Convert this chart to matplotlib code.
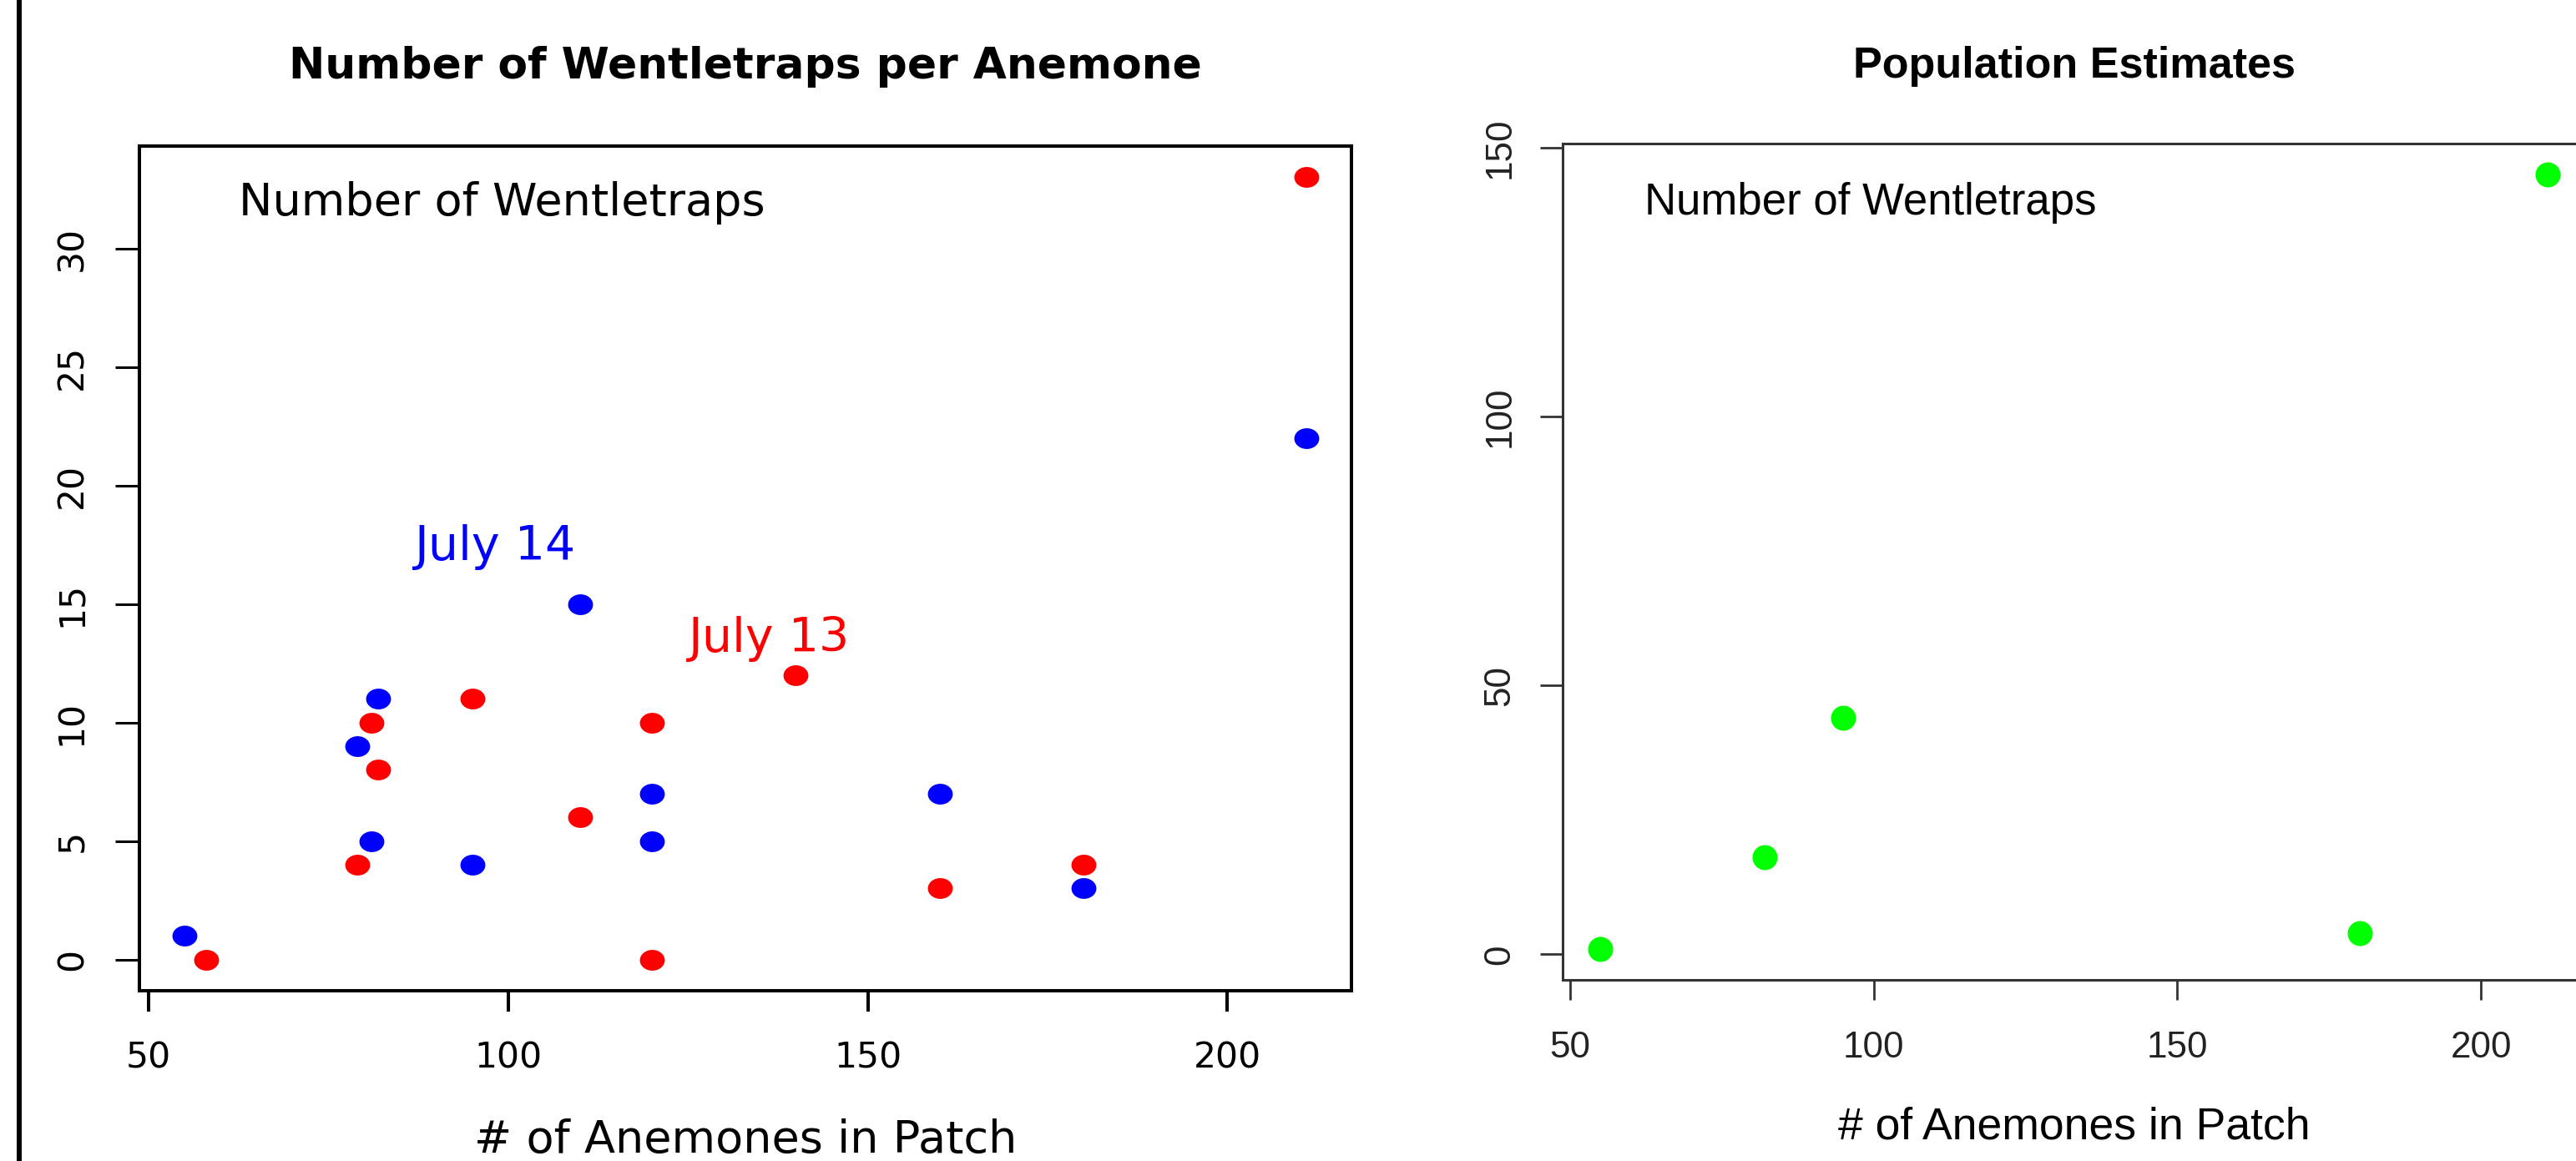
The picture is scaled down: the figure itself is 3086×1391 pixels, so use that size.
import numpy as np
import matplotlib
matplotlib.use("Agg")
import matplotlib.pyplot as plt
from matplotlib.path import Path
from matplotlib.lines import Line2D

# July 13 / July 14 counts per patch
x13 = [58, 79, 81, 82, 95, 110, 120, 120, 140, 160, 180, 211]
y13 = [0, 4, 10, 8, 11, 6, 10, 0, 12, 3, 4, 33]
x14 = [55, 79, 81, 82, 95, 110, 120, 120, 160, 180, 211]
y14 = [1, 9, 5, 11, 4, 15, 7, 5, 7, 3, 22]

# population estimates
xpop = [55, 82, 95, 180, 211]
ypop = [1, 18, 44, 4, 145]

xticks = [50, 100, 150, 200]
yticks_left = [0, 5, 10, 15, 20, 25, 30]
yticks_right = [0, 50, 100, 150]

W, H = 3086, 1391
fig = plt.figure(figsize=(W / 100, H / 100), dpi=100)
fig.patch.set_facecolor("white")


def rlim(v):
    lo, hi = min(v), max(v)
    d = 0.04 * (hi - lo)
    return lo - d, hi + d


# squashed ellipse marker for the left panel (image was stretched sideways)
t = np.linspace(0, 2 * np.pi, 60)
ell = Path(np.column_stack([np.cos(t), np.sin(t) / 1.2]), closed=True)

# ---------------- left panel ----------------
ax1 = fig.add_axes([167 / W, 1 - 1187 / H, (1619 - 167) / W, (1187 - 175) / H])
lf = "DejaVu Sans"
ax1.plot(x13, y13, ls="none", marker=ell, ms=21.5, color="#ff0000", mew=0)
ax1.plot(x14, y14, ls="none", marker=ell, ms=21.5, color="#0000ff", mew=0)
ax1.set_xlim(rlim(x13 + x14))
ax1.set_ylim(rlim(y13 + y14))
ax1.set_xticks(xticks)
ax1.set_yticks(yticks_left)
ax1.set_xticklabels([str(v) for v in xticks], family=lf, size=30.6)
ax1.set_yticklabels([str(v) for v in yticks_left], family=lf, size=30.6,
                    rotation=90, va="center")
ax1.tick_params(axis="x", length=18, width=2.9, pad=25, colors="black")
ax1.tick_params(axis="y", length=21, width=2.2, pad=22, colors="black")
for s in ax1.spines.values():
    s.set_linewidth(2.9)
    s.set_color("black")
ax1.set_title("Number of Wentletraps per Anemone", family=lf, weight="bold",
              size=37.4, y=1.080, pad=0)
ax1.set_xlabel("# of Anemones in Patch", family=lf, size=39)
ax1.xaxis.label.set_va("baseline")
ax1.xaxis.set_label_coords(0.5, -0.1917)
ax1.text(0.082, 0.918, "Number of Wentletraps", transform=ax1.transAxes,
         family=lf, size=39, va="baseline", ha="left")
ax1.text(98.2, 16.86, "July 14", color="#0000ff", family=lf, size=41,
         ha="center", va="baseline")
ax1.text(136.3, 12.97, "July 13", color="#ff0000", family=lf, size=41,
         ha="center", va="baseline")

# ---------------- right panel ----------------
ax2 = fig.add_axes([1872 / W, 1 - 1174 / H, (3097.5 - 1872) / W, (1174 - 172) / H])
rf = "Liberation Sans"
ax2.plot(xpop, ypop, ls="none", marker="o", ms=21.6, color="#00ff00", mew=0)
ax2.set_xlim(rlim(xpop))
ax2.set_ylim(rlim(ypop))
ax2.set_xticks(xticks)
ax2.set_yticks(yticks_right)
ax2.set_xticklabels([str(v) for v in xticks], family=rf, size=31.7)
ax2.set_yticklabels([str(v) for v in yticks_right], family=rf, size=31.7,
                    rotation=90, va="center")
ax2.tick_params(axis="x", length=17, width=2.0, pad=27, colors="#333333",
                labelcolor="#222222")
ax2.tick_params(axis="y", length=19.5, width=2.0, pad=20, colors="#333333",
                labelcolor="#222222")
for s in ax2.spines.values():
    s.set_linewidth(2.2)
    s.set_color("#333333")
ax2.set_title("Population Estimates", family=rf, weight="bold", size=37.5,
              y=1.079, pad=0)
ax2.set_xlabel("# of Anemones in Patch", family=rf, size=38.5)
ax2.xaxis.label.set_va("baseline")
ax2.xaxis.set_label_coords(0.5, -0.1906)
ax2.text(0.080, 0.915, "Number of Wentletraps", transform=ax2.transAxes,
         family=rf, size=38, va="baseline", ha="left")

# black border line at the far left of the picture
fig.add_artist(Line2D([23 / W, 23 / W], [0, 1], transform=fig.transFigure,
                      color="black", lw=4.3))

fig.savefig("out.png", dpi=100)
